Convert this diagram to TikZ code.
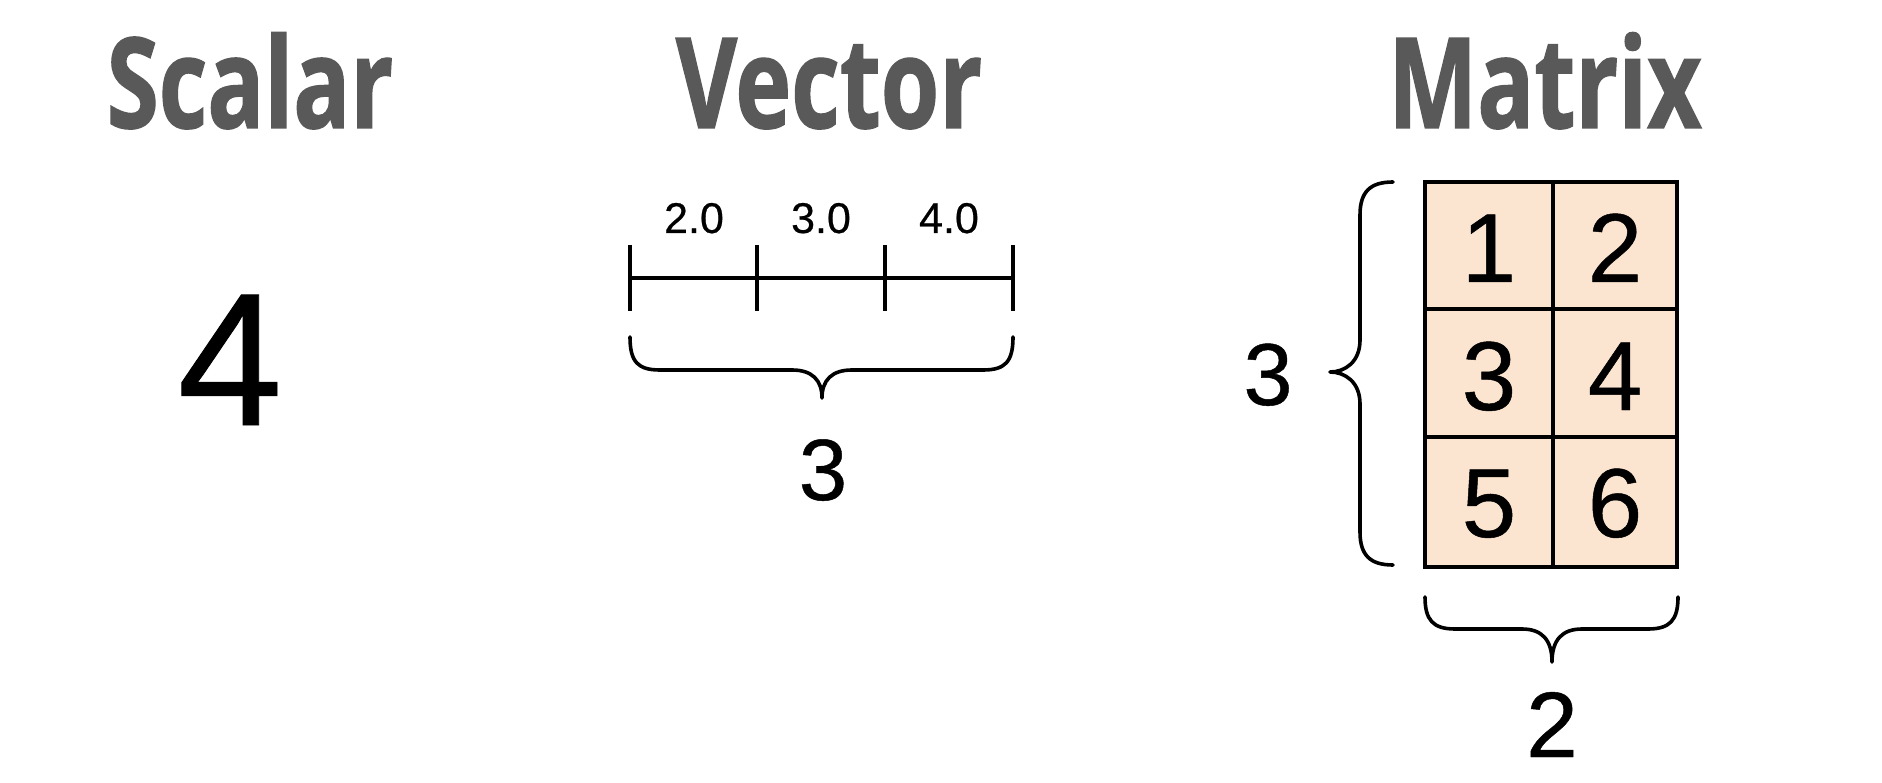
\documentclass[tikz,border=0pt]{standalone}
\usepackage{fontspec}
\setmainfont{Liberation Sans}[UprightFeatures={FakeBold=0.5}]
\newfontfamily\titlefont{Open Sans}[FakeStretch=0.75, BoldFeatures={FakeBold=1}]
\definecolor{titlegray}{RGB}{89,89,89}
\definecolor{cellfill}{RGB}{252,229,208}
\begin{document}
\begin{tikzpicture}[x=1pt,y=-1pt,
  title/.style={inner sep=0pt,anchor=base,text=titlegray,font=\titlefont\bfseries\fontsize{126}{126}\selectfont},
  numtext/.style={inner sep=0pt,anchor=base},
  brace/.style={line width=3.6pt,line cap=round,line join=round},
  tick/.style={line width=3.8pt}]
\useasboundingbox (0,0) rectangle (1882,783);
\fill[white] (0,0) rectangle (1882,783);
% titles
\node[title] (tscalar) at (250,128) {Scalar};
\node[title] (tvector) at (829,128) {Vector};
\node[title] (tmatrix) at (1545,128) {Matrix};
% scalar
\node[numtext,font=\fontsize{189}{189}\selectfont] (sfour) at (230,425) {4};
% vector
\coordinate (v0) at (630,278);
\coordinate (v1) at (757,278);
\coordinate (v2) at (885,278);
\coordinate (v3) at (1013,278);
\draw[tick] (v0) -- (v3);
\foreach \c in {v0,v1,v2,v3}{\draw[tick] ([yshift=33pt]\c) -- ([yshift=-33pt]\c);}
\node[numtext,font=\fontsize{43}{43}\selectfont] (va) at (694,233) {2.0};
\node[numtext,font=\fontsize{43}{43}\selectfont] (vb) at (821,233) {3.0};
\node[numtext,font=\fontsize{43}{43}\selectfont] (vc) at (949,233) {4.0};
\draw[brace] (630,337) .. controls (630,362) and (638,370) .. (660,370) -- (792,370)
  .. controls (812,370) and (822,380) .. (822,398)
  .. controls (822,380) and (832,370) .. (852,370) -- (983,370)
  .. controls (1005,370) and (1013,362) .. (1013,337);
\node[numtext,font=\fontsize{87}{87}\selectfont] (vlen) at (823,500) {3};
% matrix
\fill[cellfill] (1425,182) rectangle (1677,567);
\draw[line width=3.8pt] (1425,182) rectangle (1677,567);
\draw[line width=3.8pt] (1553,182) -- (1553,567);
\draw[line width=3.8pt] (1425,309) -- (1677,309);
\draw[line width=3.8pt] (1425,437) -- (1677,437);
\foreach \t/\x/\y in {1/1489/282,2/1615/282,3/1489/410,4/1615/410,5/1489/537,6/1615/537}{
  \node[numtext,font=\fontsize{98}{98}\selectfont] (m\t) at (\x,\y) {\t};
}
% left brace
\draw[brace] (1393,182) .. controls (1370,182) and (1360,192) .. (1360,215) -- (1360,340)
  .. controls (1360,362) and (1345,372) .. (1330,372)
  .. controls (1345,372) and (1360,382) .. (1360,404) -- (1360,532)
  .. controls (1360,555) and (1370,565) .. (1393,565);
\node[numtext,font=\fontsize{88}{88}\selectfont] (mrows) at (1268,405) {3};
% bottom brace
\draw[brace] (1425,597) .. controls (1425,620) and (1433,629) .. (1455,629) -- (1522,629)
  .. controls (1542,629) and (1552,640) .. (1552,662)
  .. controls (1552,640) and (1562,629) .. (1582,629) -- (1648,629)
  .. controls (1670,629) and (1678,620) .. (1678,597);
\node[numtext,font=\fontsize{93}{93}\selectfont] (mcols) at (1552,757) {2};
\end{tikzpicture}
\end{document}
